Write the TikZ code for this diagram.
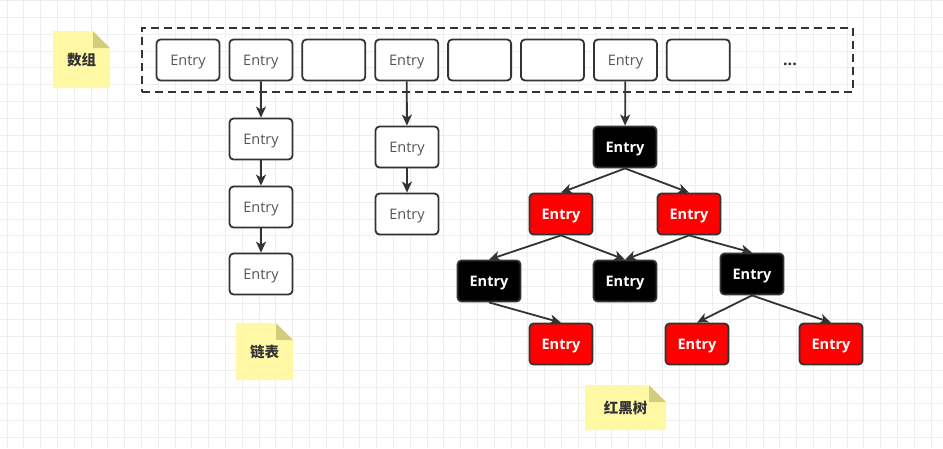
\documentclass[tikz,border=0pt]{standalone}
\usepackage{fontspec}
\setmainfont{Open Sans}
\newfontfamily\cjk{Noto Sans CJK SC}
\usetikzlibrary{arrows.meta}
\definecolor{edge}{HTML}{333333}
\definecolor{gridc}{HTML}{EEEEEE}
\definecolor{memoY}{HTML}{FFF9A6}
\definecolor{memoF}{HTML}{D2CD7E}
\definecolor{entryt}{HTML}{555555}
\definecolor{rbred}{HTML}{FF0000}

\begin{document}
\begin{tikzpicture}[x=1pt,y=-1pt,
    cell/.style={draw=edge, line width=1.8pt, rounded corners=4pt, fill=white, minimum width=63pt, minimum height=41pt, inner sep=0pt, text depth=0pt, text=entryt, font=\fontsize{14.5}{16}\selectfont},
    blk/.style={cell, fill=black, text=white, font=\fontsize{14.5}{16}\selectfont\bfseries},
    rd/.style={blk, fill=rbred},
    link/.style={draw=edge, line width=1.8pt, -{Stealth[length=11pt,width=10pt,inset=3pt]}},
    memo/.style={font=\cjk\fontsize{14.5}{16}\selectfont\bfseries, text=black!80},
  ]
  \useasboundingbox (0,0) rectangle (943,448);
  % grid
  \foreach \i in {0,...,56} \draw[gridc, line width=0.8pt] ({7+16.8*\i},0) -- ({7+16.8*\i},448);
  \foreach \j in {0,...,26} \draw[gridc, line width=0.8pt] (0,{0.5+16.8*\j}) -- (943,{0.5+16.8*\j});

  % array
  \node[draw=edge, line width=1.8pt, dash pattern=on 8pt off 5pt, minimum width=711pt, minimum height=64pt] (arr) at (497.5,60) {};
  \foreach \i/\t in {1/Entry,2/Entry,3/,4/Entry,5/,6/,7/Entry,8/}
    \node[cell] (arr\i) at ({188+72.9*(\i-1)},60) {\t};
  \node[font=\fontsize{16}{18}\selectfont\bfseries, text=edge] (more) at (790,64) {...};

  % linked lists
  \node[cell] (l1a) at (261,139) {Entry};
  \node[cell] (l1b) at (261,207) {Entry};
  \node[cell] (l1c) at (261,274) {Entry};
  \node[cell] (l2a) at (407,147) {Entry};
  \node[cell] (l2b) at (407,214) {Entry};

  % red-black tree
  \node[blk] (t0) at (625,147) {Entry};
  \node[rd] (r1) at (561,214) {Entry};
  \node[rd] (r2) at (689,214) {Entry};
  \node[blk] (b1) at (489,281) {Entry};
  \node[blk] (b2) at (625,281) {Entry};
  \node[blk] (b3) at (752,274) {Entry};
  \node[rd] (r3) at (561,344) {Entry};
  \node[rd] (r4) at (697,344) {Entry};
  \node[rd] (r5) at (831,344) {Entry};

  \draw[link] (arr2) -- (l1a);
  \draw[link] (l1a) -- (l1b);
  \draw[link] (l1b) -- (l1c);
  \draw[link] (arr4) -- (l2a);
  \draw[link] (l2a) -- (l2b);
  \draw[link] (arr7) -- (t0);
  \draw[link] (t0.south) -- (r1.north);
  \draw[link] (t0.south) -- (r2.north);
  \draw[link] (r1.south) -- (b1.north);
  \draw[link] (r1.south) -- (b2.north);
  \draw[link] (r2.south) -- (b2.north);
  \draw[link] (r2.south) -- (b3.north);
  \draw[link] (b1.south) -- (r3.north);
  \draw[link] (b3.south) -- (r4.north);
  \draw[link] (b3.south) -- (r5.north);

  % notes
  \fill[memoY] (53,31) -- (93,31) -- (110,48) -- (110,88) -- (53,88) -- cycle;
  \fill[memoF] (93,31) -- (110,48) -- (93,48) -- cycle;
  \node[memo] (note1) at (81.5,59.5) {数组};
  \fill[memoY] (236,323) -- (276,323) -- (293,340) -- (293,380) -- (236,380) -- cycle;
  \fill[memoF] (276,323) -- (293,340) -- (276,340) -- cycle;
  \node[memo] (note2) at (264.5,351.5) {链表};
  \fill[memoY] (585,385) -- (649,385) -- (666,402) -- (666,430) -- (585,430) -- cycle;
  \fill[memoF] (649,385) -- (666,402) -- (649,402) -- cycle;
  \node[memo] (note3) at (625.5,407.5) {红黑树};
\end{tikzpicture}
\end{document}
